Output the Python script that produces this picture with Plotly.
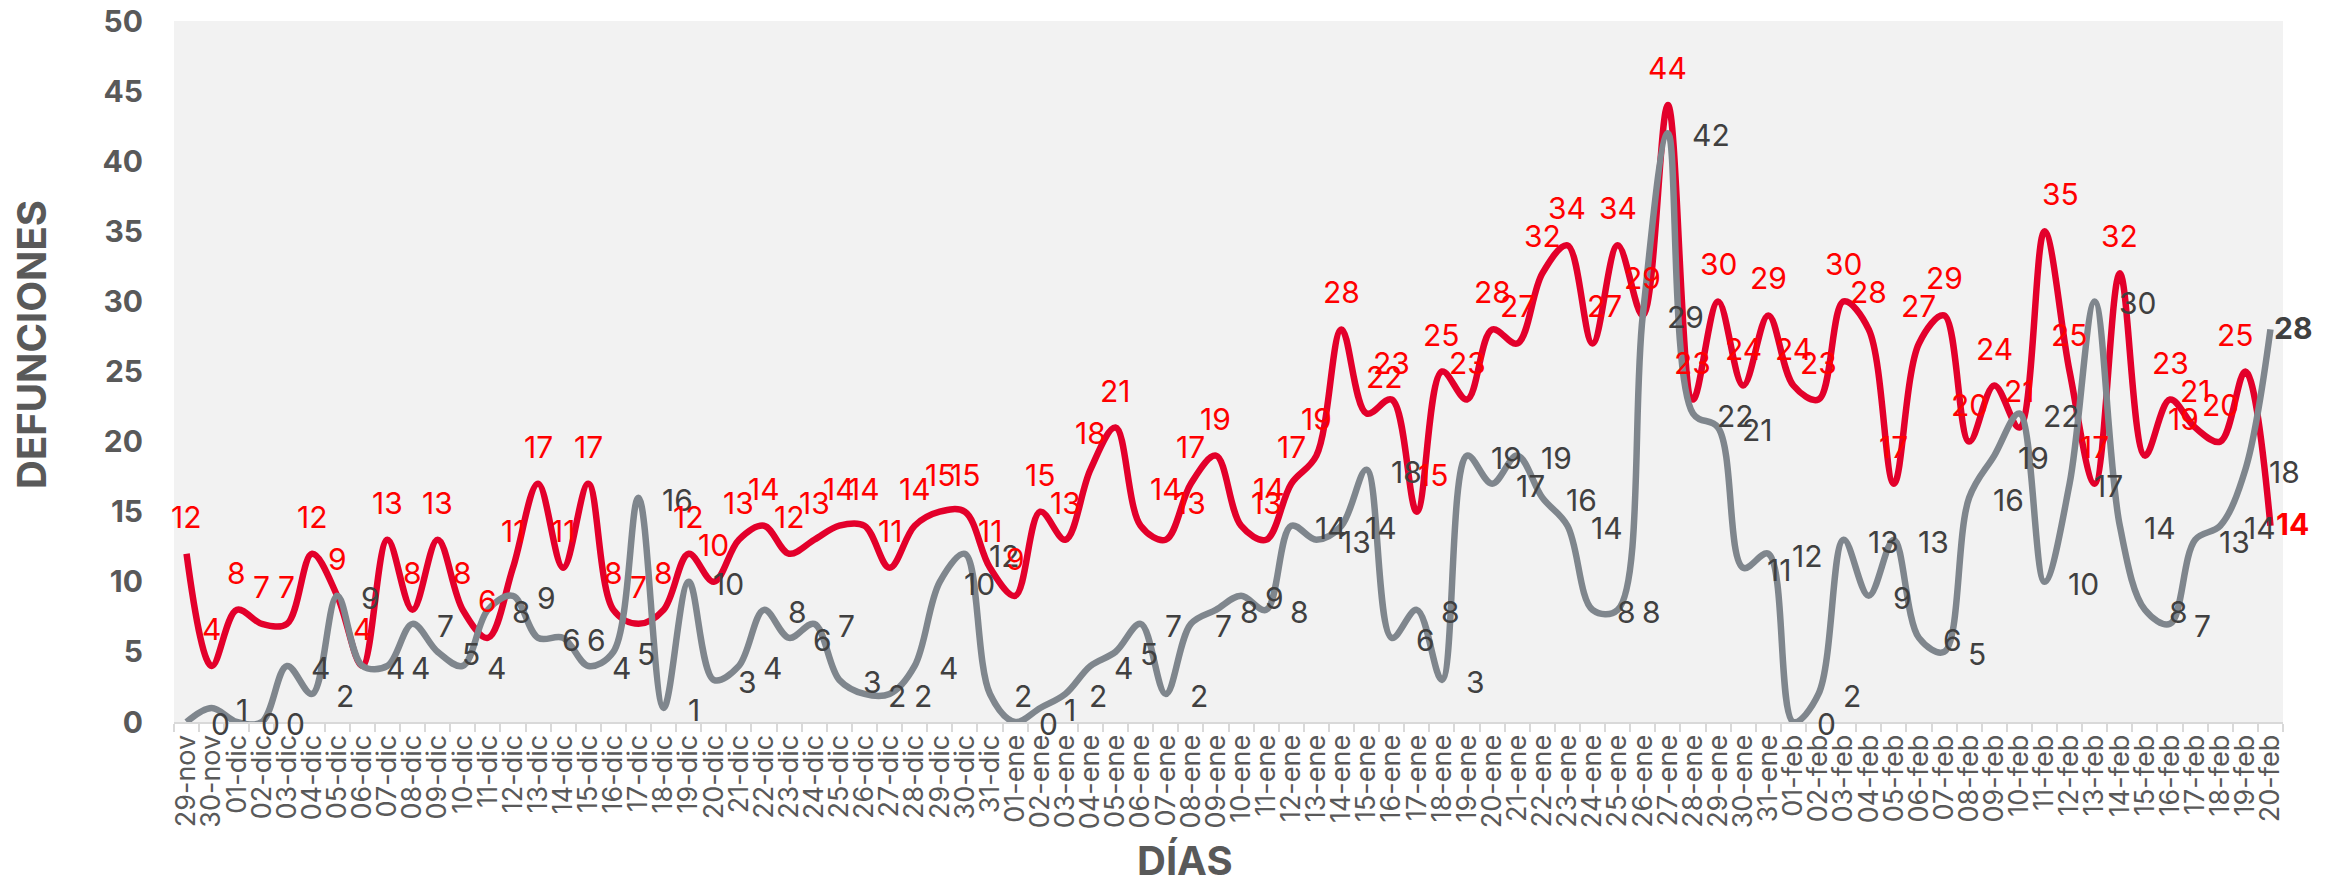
import plotly.graph_objects as go

# ---------------- data ----------------
dias = [
    "29-nov", "30-nov",
    "01-dic", "02-dic", "03-dic", "04-dic", "05-dic", "06-dic", "07-dic", "08-dic", "09-dic", "10-dic",
    "11-dic", "12-dic", "13-dic", "14-dic", "15-dic", "16-dic", "17-dic", "18-dic", "19-dic", "20-dic",
    "21-dic", "22-dic", "23-dic", "24-dic", "25-dic", "26-dic", "27-dic", "28-dic", "29-dic", "30-dic", "31-dic",
    "01-ene", "02-ene", "03-ene", "04-ene", "05-ene", "06-ene", "07-ene", "08-ene", "09-ene", "10-ene",
    "11-ene", "12-ene", "13-ene", "14-ene", "15-ene", "16-ene", "17-ene", "18-ene", "19-ene", "20-ene",
    "21-ene", "22-ene", "23-ene", "24-ene", "25-ene", "26-ene", "27-ene", "28-ene", "29-ene", "30-ene", "31-ene",
    "01-feb", "02-feb", "03-feb", "04-feb", "05-feb", "06-feb", "07-feb", "08-feb", "09-feb", "10-feb",
    "11-feb", "12-feb", "13-feb", "14-feb", "15-feb", "16-feb", "17-feb", "18-feb", "19-feb", "20-feb",
]

serie_roja = [
    12, 4, 8, 7, 7, 12, 9, 4, 13, 8, 13, 8, 6, 11, 17, 11, 17, 8, 7, 8, 12, 10, 13,
    14, 12, 13, 14, 14, 11, 14, 15, 15, 11,
    9, 15, 13, 18, 21, 14, 13, 17, 19, 14,
    13, 17, 19, 28, 22, 23, 15, 25, 23, 28,
    27, 32, 34, 27, 34, 29, 44, 23, 30, 24,
    29, 24, 23, 30, 28, 17, 27, 29, 20, 24,
    21, 35, 25, 17, 32, 19, 23, 21, 20, 25,
    14,
]

serie_gris = [
    0, 1, 0, 0, 4, 2, 9, 4, 4, 7,
    5, 4, 8, 9, 6, 6, 4, 5, 16, 1,
    10, 3, 4, 8, 6, 7, 3, 2, 2, 4,
    10, 12, 2, 0, 1, 2, 4, 5, 7, 2,
    7, 8, 9, 8, 14, 13, 14, 18, 6, 8,
    3, 19, 17, 19, 16, 14, 8, 8, 29, 42,
    22, 21, 11, 12, 0, 2, 13, 9, 13, 6,
    5, 16, 19, 22, 10, 17, 30, 14, 8, 7,
    13, 14, 18, 28,
]

y_ticks = [0, 5, 10, 15, 20, 25, 30, 35, 40, 45, 50]

# ---------------- style ----------------
FONT = "Inter"
RED_LINE = "#E3002B"
RED_TEXT = "#FF0000"
GRAY_LINE = "#7F868D"
GRAY_TEXT = "#404040"
AXIS_TEXT = "#595959"
LABEL_SIZE = 30

# horizontal nudges (px) of a few red labels, as in the original
red_dx = {38: 25, 39: 25, 42: 28, 47: 18, 49: 16, 56: 12, 74: 16, 78: 39, 82: -10}

fig = go.Figure()

fig.add_trace(go.Scatter(
    x=dias, y=serie_roja, mode="lines",
    line=dict(color=RED_LINE, width=6.5, shape="spline", smoothing=1.0),
    hoverinfo="skip", showlegend=False,
))
fig.add_trace(go.Scatter(
    x=dias, y=serie_gris, mode="lines",
    line=dict(color=GRAY_LINE, width=6.5, shape="spline", smoothing=1.0),
    hoverinfo="skip", showlegend=False,
))

annotations = []
n = len(dias)
for i in range(n):
    last = i == n - 1
    # red labels
    annotations.append(dict(
        x=dias[i], y=serie_roja[i], xref="x", yref="y",
        text=("<b>%d</b>" % serie_roja[i]) if last else str(serie_roja[i]),
        showarrow=False,
        xanchor="left" if last else "center",
        yanchor="middle",
        xshift=4 if last else red_dx.get(i, 0),
        yshift=2 if last else 37,
        font=dict(family=FONT, size=LABEL_SIZE, color=RED_TEXT),
    ))
    # gray labels
    annotations.append(dict(
        x=dias[i], y=serie_gris[i], xref="x", yref="y",
        text=("<b>%d</b>" % serie_gris[i]) if last else str(serie_gris[i]),
        showarrow=False,
        xanchor="left", yanchor="middle",
        xshift=2 if last else 22,
        yshift=1 if last else -2,
        font=dict(family=FONT, size=LABEL_SIZE, color=GRAY_TEXT),
    ))

# axis titles
annotations.append(dict(
    text="<b>DEFUNCIONES</b>", xref="paper", yref="paper",
    x=-143 / 2109, y=377 / 701, showarrow=False, textangle=-90,
    xanchor="center", yanchor="middle",
    font=dict(family=FONT, size=40, color=AXIS_TEXT),
))
annotations.append(dict(
    text="<b>DÍAS</b>", xref="paper", yref="paper",
    x=1011 / 2109, y=-138 / 701, showarrow=False,
    xanchor="center", yanchor="middle",
    font=dict(family=FONT, size=40, color=AXIS_TEXT),
))

# the page body adds an 8 px margin, so the figure is sized to fit inside it
fig.update_layout(
    width=2312, height=868,
    margin=dict(l=166, r=37, t=13, b=154, autoexpand=False),
    paper_bgcolor="white",
    plot_bgcolor="#F2F2F2",
    font=dict(family=FONT, color=AXIS_TEXT),
    annotations=annotations,
    hovermode=False,
)

fig.update_xaxes(
    type="category",
    range=[-0.5, n - 0.5],
    tickmode="array", tickvals=dias, ticktext=dias,
    tickangle=-90,
    tickfont=dict(family=FONT, size=27, color=AXIS_TEXT),
    ticks="outside", tickson="boundaries", ticklen=8, tickwidth=2, tickcolor="#D9D9D9",
    showline=True, linecolor="#D9D9D9", linewidth=2,
    showgrid=False, zeroline=False, automargin=False,
)
fig.update_yaxes(
    range=[0, 50],
    tickmode="array", tickvals=y_ticks, ticktext=[str(v) for v in y_ticks],
    tickfont=dict(family=FONT, size=30, color=AXIS_TEXT, weight="bold"),
    ticks="", ticklabelstandoff=30, ticklabeloverflow="allow",
    showline=False, showgrid=False, zeroline=False, automargin=False,
)

fig.write_html("out.html")
